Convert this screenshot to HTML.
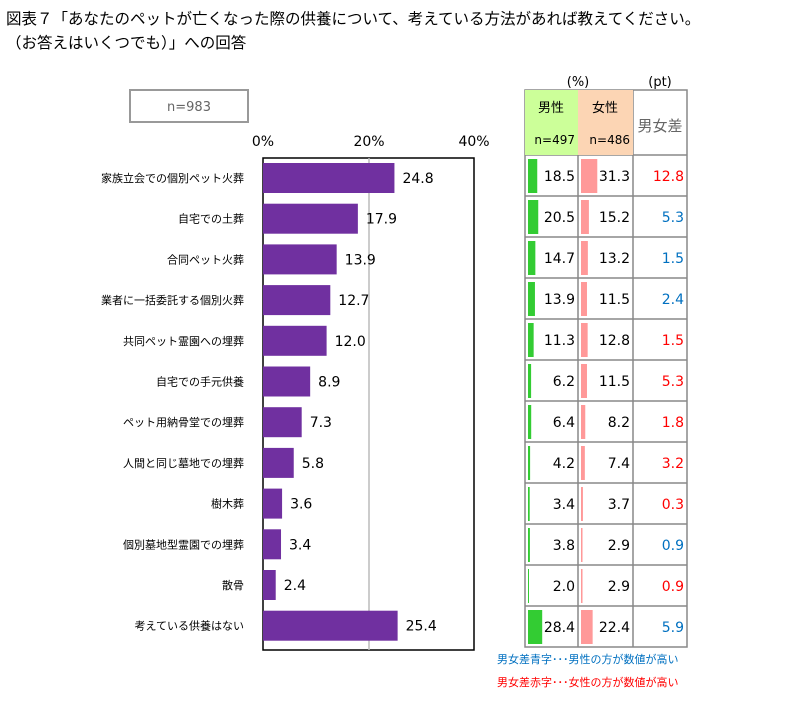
<!DOCTYPE html>
<html><head><meta charset="utf-8"><style>
body{margin:0;background:#fff;}
svg text{font-family:"DejaVu Sans","Noto Sans CJK JP",sans-serif;}
</style></head><body>
<svg id="s" width="810" height="712" xmlns="http://www.w3.org/2000/svg">
<text x="6" y="24" font-size="15.5" fill="#000">図表７「あなたのペットが亡くなった際の供養について、考えている方法があれば教えてください。</text>
<text x="6" y="48" font-size="15.5" fill="#000">（お答えはいくつでも）」への回答</text>
<rect x="130" y="90" width="118" height="32" fill="#fff" stroke="#999" stroke-width="2"/>
<text x="189" y="111" font-size="13" fill="#666" text-anchor="middle">n=983</text>
<text x="263" y="146" font-size="14" text-anchor="middle">0%</text>
<text x="369" y="146" font-size="14" text-anchor="middle">20%</text>
<text x="474" y="146" font-size="14" text-anchor="middle">40%</text>
<rect x="263" y="158" width="211" height="492" fill="#fff" stroke="#000" stroke-width="1.5"/>
<line x1="369" y1="158" x2="369" y2="650" stroke="#bbb" stroke-width="1.5"/>
<g id="g"></g>
<text x="578" y="86" font-size="13" text-anchor="middle">(%)</text>
<text x="660" y="86" font-size="13" text-anchor="middle">(pt)</text>
<rect x="525" y="90" width="53" height="65" fill="#ccff99"/>
<rect x="578" y="90" width="55" height="65" fill="#fcd5b4"/>
<text x="551" y="112" font-size="13" text-anchor="middle">男性</text>
<text x="605" y="112" font-size="13" text-anchor="middle">女性</text>
<text x="575" y="144" font-size="12" text-anchor="end">n=497</text>
<text x="630" y="144" font-size="12" text-anchor="end">n=486</text>
<text x="660" y="131" font-size="15" fill="#666" text-anchor="middle">男女差</text>
<text x="497" y="663" font-size="11" fill="#0070c0">男女差青字･･･男性の方が数値が高い</text>
<text x="497" y="686" font-size="11" fill="#ff0000">男女差赤字･･･女性の方が数値が高い</text>
</svg>
<script>
var L=["家族立会での個別ペット火葬","自宅での土葬","合同ペット火葬","業者に一括委託する個別火葬","共同ペット霊園への埋葬","自宅での手元供養","ペット用納骨堂での埋葬","人間と同じ墓地での埋葬","樹木葬","個別墓地型霊園での埋葬","散骨","考えている供養はない"];
var T=[24.8,17.9,13.9,12.7,12.0,8.9,7.3,5.8,3.6,3.4,2.4,25.4];
var M=[18.5,20.5,14.7,13.9,11.3,6.2,6.4,4.2,3.4,3.8,2.0,28.4];
var F=[31.3,15.2,13.2,11.5,12.8,11.5,8.2,7.4,3.7,2.9,2.9,22.4];
var D=["12.8","5.3","1.5","2.4","1.5","5.3","1.8","3.2","0.3","0.9","0.9","5.9"];
var B=[0,1,1,1,0,0,0,0,0,1,0,1];
var h="";
for(var i=0;i<12;i++){
 var c=178+i*40.7;
 h+='<text x="244" y="'+(c+4)+'" font-size="11" text-anchor="end">'+L[i]+'</text>';
 h+='<rect x="263" y="'+(c-15)+'" width="'+(T[i]*5.3)+'" height="30" fill="#7030a0"/>';
 h+='<text x="'+(263+T[i]*5.3+8)+'" y="'+(c+5)+'" font-size="14">'+T[i].toFixed(1)+'</text>';
 var t=155+i*41;
 h+='<rect x="528" y="'+(t+4)+'" width="'+Math.max(1,M[i]*0.5)+'" height="34" fill="#33cc33"/>';
 h+='<rect x="581" y="'+(t+4)+'" width="'+Math.max(1,F[i]*0.52)+'" height="34" fill="#ff9999"/>';
 h+='<text x="575" y="'+(t+26)+'" font-size="14" text-anchor="end">'+M[i].toFixed(1)+'</text>';
 h+='<text x="630" y="'+(t+26)+'" font-size="14" text-anchor="end">'+F[i].toFixed(1)+'</text>';
 h+='<text x="684" y="'+(t+26)+'" font-size="14" text-anchor="end" fill="'+(B[i]?'#0070c0':'#ff0000')+'">'+D[i]+'</text>';
}
h+='<g stroke="#888" stroke-width="1.5" fill="none"><rect x="525" y="90" width="162" height="557"/>';
h+='<line x1="578" y1="90" x2="578" y2="647"/><line x1="633" y1="90" x2="633" y2="647"/>';
for(var i=0;i<12;i++){var y=155+i*41;h+='<line x1="525" y1="'+y+'" x2="687" y2="'+y+'"/>';}
h+='</g>';
document.getElementById("g").innerHTML=h;
</script>
</body></html>
